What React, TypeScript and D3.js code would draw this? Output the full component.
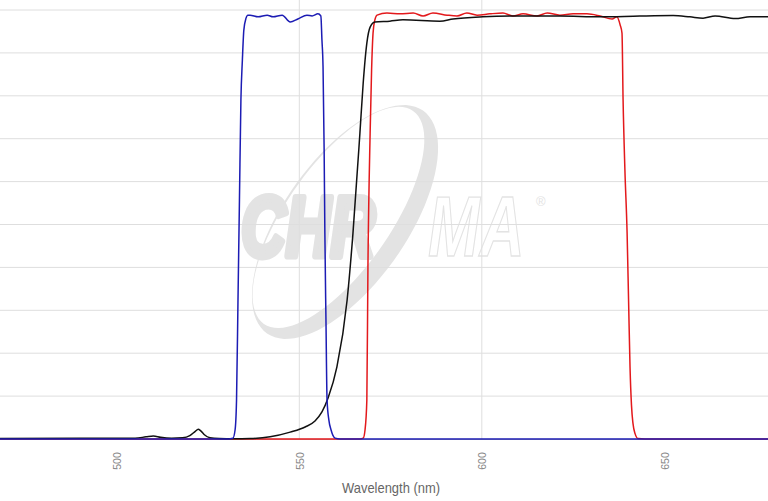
import React, { useRef, useEffect } from 'react';
import * as d3 from 'd3';

// wavelength (nm) / transmission (%)
const blueWl = [468, 529.6, 531.8, 532.4, 532.8, 533.2, 533.6, 534.0, 534.4, 534.8, 535.4, 535.9, 536.5, 538.7, 541.2, 542.8, 545.3, 547.5, 549.6, 552.1, 553.5, 555.1, 555.9, 556.2, 556.5, 556.8, 557.0, 557.3, 557.6, 558.1, 558.7, 559.8, 561.2, 678.4];
const blueT = [0, 0, 0.2, 2.1, 9.1, 32.4, 55.7, 79.0, 88.3, 95.3, 98.1, 98.8, 98.8, 98.4, 98.8, 98.4, 98.8, 97.2, 97.9, 98.8, 98.6, 99.1, 98.6, 93.0, 86.7, 67.4, 48.0, 27.7, 9.1, 4.4, 2.1, 0.2, 0, 0];

const blackWl = [468, 490, 505, 508, 510, 512, 515, 518, 520, 521.5, 522.3, 523, 524, 525.5, 528, 532, 536.5, 542.0, 547.5, 551.6, 554.3, 556.2, 557.9, 560.3, 563.1, 564.7, 566.6, 567.5, 568.5, 569.4, 570.7, 574.8, 578.4, 588.5, 592.1, 600.3, 610.5, 621.4, 632.4, 643.3, 652.4, 657.0, 660.6, 663.9, 669.4, 673.5, 678.4];
const blackT = [0.1, 0.2, 0.2, 0.5, 0.7, 0.4, 0.2, 0.3, 0.8, 1.8, 2.3, 1.9, 1.0, 0.3, 0.1, 0.05, 0.1, 0.5, 1.6, 2.8, 4.2, 6.3, 9.6, 16.8, 32.4, 48.0, 71.3, 83.0, 92.3, 96.0, 97.2, 97.4, 97.7, 97.4, 97.9, 98.4, 98.6, 98.6, 98.4, 98.6, 98.7, 98.4, 98.1, 98.6, 98.0, 98.4, 98.4];

const redWl = [468, 566.6, 567.5, 568.0, 568.5, 568.8, 569.4, 569.8, 570.2, 570.7, 571.3, 574.0, 577.6, 581.2, 583.9, 586.6, 590.5, 593.2, 595.9, 598.7, 602.2, 605.8, 608.5, 611.3, 615.1, 617.9, 621.4, 625.0, 628.8, 632.4, 635.7, 637.0, 637.9, 638.4, 638.7, 639.2, 639.8, 640.2, 640.6, 641.0, 641.4, 642.0, 642.8, 644.7, 678.4];
const redT = [0, 0, 0.2, 2.1, 9.1, 40.1, 71.3, 86, 94.6, 97.7, 98.8, 99.3, 99.1, 99.3, 98.6, 99.3, 98.8, 98.6, 99.3, 98.8, 99.1, 99.3, 98.6, 99.1, 98.6, 99.3, 98.8, 99.1, 99.1, 98.6, 97.9, 98.4, 96.5, 94.6, 79.0, 62.7, 48.0, 32.4, 16.8, 7.9, 3.7, 1.2, 0.1, 0, 0];

const xTicks = [500, 550, 600, 650];
const xGrid = [550, 600];
const yGrid = [10, 20, 30, 40, 50, 60, 70, 80, 90, 100];

const W = 768;
const H = 501;

const App = () => {
    const ref = useRef<SVGSVGElement>(null);

    useEffect(() => {
        const svg = d3.select(ref.current);
        svg.selectAll('*').remove();

        const x = d3.scaleLinear().domain([468, 678.4]).range([0, W]);
        const y = d3.scaleLinear().domain([0, 100]).range([439, 10]);

        svg.append('rect').attr('width', W).attr('height', H).attr('fill', '#fff');

        // watermark
        const wm = svg.append('g');
        const cx = 345, cy = 222, ang = -55 * Math.PI / 180;
        const ux = Math.cos(ang), uy = Math.sin(ang);
        const vx = -uy, vy = ux;
        const ell = (rx: number, ry: number, off: number) => {
            const pts = d3.range(0, 361, 4).map(a => {
                const t = a * Math.PI / 180;
                const p = rx * Math.cos(t), q = ry * Math.sin(t) + off;
                return [cx + p * ux + q * vx, cy + p * uy + q * vy] as [number, number];
            });
            return d3.line()(pts) + 'Z';
        };
        wm.append('path')
            .attr('d', ell(136, 62, 0) + ell(130, 52, -8))
            .attr('fill', '#e3e3e3')
            .attr('fill-rule', 'evenodd');
        // letters are drawn narrow and stretched upward
        wm.append('text')
            .attr('transform', 'translate(241,256) scale(1,1.36)')
            .style('font-family', '"Liberation Sans", Arial, sans-serif')
            .style('font-size', '62px')
            .style('font-weight', 'bold')
            .style('font-style', 'italic')
            .attr('fill', '#e3e3e3')
            .attr('stroke', '#e3e3e3')
            .attr('stroke-width', 5)
            .attr('stroke-linejoin', 'round')
            .text('CHR');
        wm.append('text')
            .attr('transform', 'translate(428,256) scale(1,1.36)')
            .style('font-family', '"Liberation Sans", Arial, sans-serif')
            .style('font-size', '62px')
            .style('font-weight', 'bold')
            .style('font-style', 'italic')
            .attr('fill', '#fff')
            .attr('stroke', '#e3e3e3')
            .attr('stroke-width', 1)
            .text('MA');
        wm.append('text')
            .attr('x', 536)
            .attr('y', 206)
            .style('font-family', 'Arial, sans-serif')
            .style('font-size', '13px')
            .attr('fill', '#e3e3e3')
            .text('®');

        // grid
        svg.append('g')
            .selectAll('line')
            .data(yGrid)
            .enter()
            .append('line')
            .attr('x1', 0)
            .attr('x2', W)
            .attr('y1', d => y(d))
            .attr('y2', d => y(d))
            .attr('stroke', '#dedede')
            .attr('stroke-width', 1);
        svg.append('g')
            .selectAll('line')
            .data(xGrid)
            .enter()
            .append('line')
            .attr('x1', d => x(d))
            .attr('x2', d => x(d))
            .attr('y1', 0)
            .attr('y2', y(0))
            .attr('stroke', '#dedede')
            .attr('stroke-width', 1);

        // x axis
        const axis = svg.append('g')
            .attr('transform', `translate(0,${y(0)})`)
            .call(d3.axisBottom(x).tickValues(xTicks).tickSize(0).tickPadding(0));
        axis.select('.domain').attr('stroke', '#bbb');
        axis.selectAll('text')
            .attr('transform', 'translate(0,22) rotate(-90)')
            .attr('dy', '0.35em')
            .attr('y', 0)
            .style('text-anchor', 'middle')
            .style('font-family', '"Liberation Sans", Arial, sans-serif')
            .style('font-size', '10.5px')
            .attr('fill', '#888');

        svg.append('text')
            .attr('x', 342)
            .attr('y', 493)
            .attr('textLength', 98)
            .attr('lengthAdjust', 'spacingAndGlyphs')
            .style('font-family', '"Liberation Sans", Arial, sans-serif')
            .style('font-size', '15px')
            .attr('fill', '#666')
            .text('Wavelength (nm)');

        // curves
        const line = d3.line<[number, number]>()
            .x(d => x(d[0]))
            .y(d => y(d[1]))
            .curve(d3.curveMonotoneX);

        const series = [
            { wl: redWl, t: redT, color: '#e3191c' },
            { wl: blackWl, t: blackT, color: '#111111' },
            { wl: blueWl, t: blueT, color: '#1c1cb4' },
        ];
        series.forEach(s => {
            svg.append('path')
                .datum(s.wl.map((w, i) => [w, s.t[i]] as [number, number]))
                .attr('d', line)
                .attr('fill', 'none')
                .attr('stroke', s.color)
                .attr('stroke-width', 1.5);
        });
    }, []);

    return (
        <div style={{ position: 'fixed', left: 0, top: 0 }}>
            <svg ref={ref} width={W} height={H} style={{ display: 'block' }}></svg>
        </div>
    );
};

export default App;
